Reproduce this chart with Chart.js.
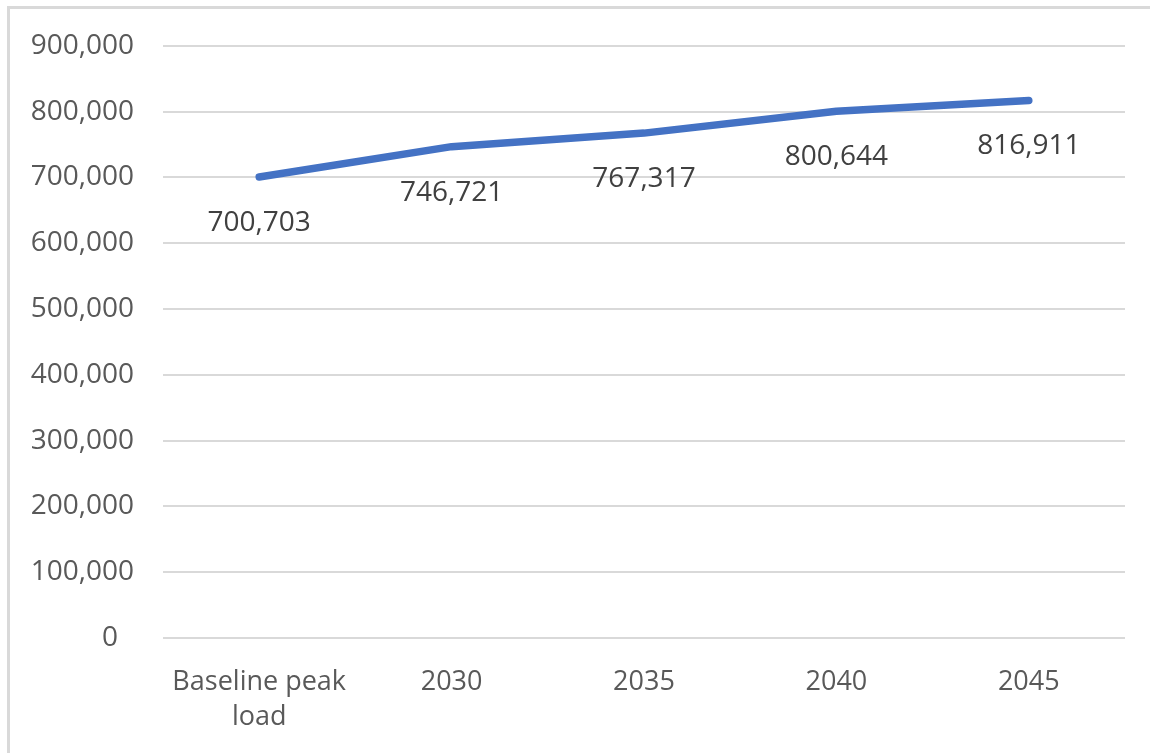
<!DOCTYPE html>
<html>
<head>
<meta charset="utf-8">
<script src="https://cdn.jsdelivr.net/npm/chart.js@4.4.1/dist/chart.umd.min.js"></script>
<style>
  html, body { margin: 0; padding: 0; background: #ffffff; }
  #frame { position: absolute; left: 7px; top: 6px; width: 1300px; height: 900px; border: 3px solid #d9d9d9; box-sizing: border-box; }
  #wrap { position: absolute; left: 0; top: 0; width: 1150px; height: 753px; overflow: hidden; }
  canvas { position: absolute; left: 0; top: 0; }
</style>
</head>
<body>
<div id="wrap">
  <div id="frame"></div>
  <canvas id="c" width="1150" height="753"></canvas>
</div>
<script>
const categories = [["Baseline peak", "load"], "2030", "2035", "2040", "2045"];
const peakLoad = [700703, 746721, 767317, 800644, 816911];
const yTicks = [0, 100000, 200000, 300000, 400000, 500000, 600000, 700000, 800000, 900000];

const FONT = "'Open Sans', 'Noto Sans', sans-serif";
const fmt = v => Number(v).toLocaleString('en-US');

const dataLabels = {
  id: 'dataLabels',
  afterDatasetsDraw(chart) {
    const ctx = chart.ctx;
    const meta = chart.getDatasetMeta(0);
    const ds = chart.data.datasets[0];
    ctx.save();
    ctx.font = '28px ' + FONT;
    ctx.fillStyle = '#404040';
    ctx.textAlign = 'center';
    ctx.textBaseline = 'middle';
    meta.data.forEach((pt, i) => {
      ctx.fillText(fmt(ds.data[i]), pt.x, pt.y + 46);
    });
    ctx.restore();
  }
};

new Chart(document.getElementById('c'), {
  type: 'line',
  data: {
    labels: categories,
    datasets: [{
      data: peakLoad,
      borderColor: '#4472C4',
      borderWidth: 7.5,
      borderCapStyle: 'round',
      borderJoinStyle: 'round',
      pointRadius: 0,
      pointHoverRadius: 0,
      tension: 0,
      fill: false
    }]
  },
  options: {
    responsive: false,
    animation: false,
    events: [],
    layout: { padding: { top: 45, right: 25, left: 0, bottom: 0 } },
    plugins: { legend: { display: false }, tooltip: { enabled: false } },
    scales: {
      x: {
        offset: true,
        grid: { display: false, drawTicks: false },
        border: { display: false },
        ticks: {
          color: '#595959',
          font: { family: FONT, size: 27, lineHeight: 1.3 },
          padding: 27,
          maxRotation: 0,
          autoSkip: false
        },
        afterFit(scale) { scale.height = 115; }
      },
      y: {
        min: 0,
        max: 900000,
        afterBuildTicks(scale) { scale.ticks = yTicks.map(v => ({ value: v })); },
        grid: { color: '#d9d9d9', lineWidth: 2, drawTicks: false },
        border: { display: false },
        ticks: {
          color: '#595959',
          font: { family: FONT, size: 28 },
          padding: 29,
          callback: v => v === 0 ? '0\u2007' : fmt(v)
        },
        afterFit(scale) { scale.width = 163; }
      }
    }
  },
  plugins: [dataLabels]
});
</script>
</body>
</html>
